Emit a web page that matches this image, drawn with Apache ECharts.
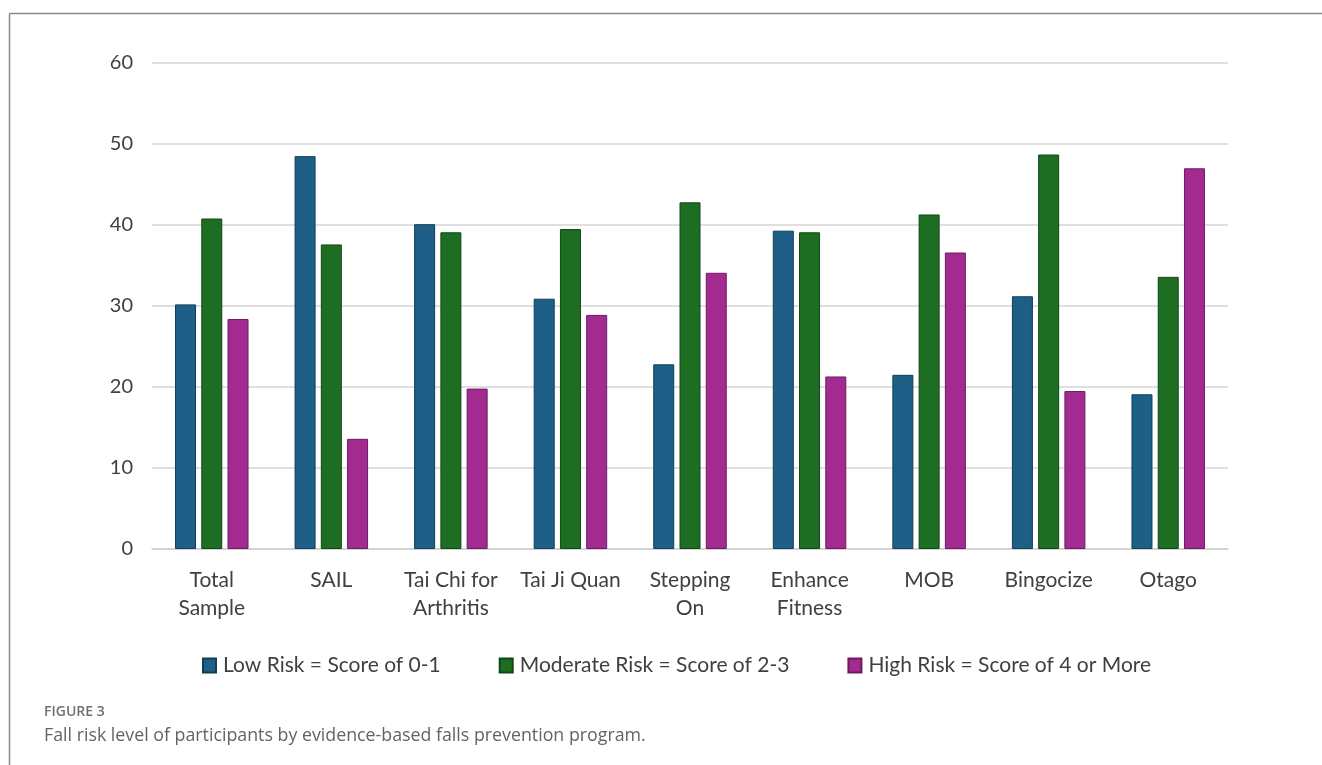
<!DOCTYPE html>
<html>
<head>
<meta charset="utf-8">
<script src="https://cdn.jsdelivr.net/npm/echarts@6/dist/echarts.min.js"></script>
<style>
html,body{margin:0;padding:0;background:#fff;}
#chart{width:1322px;height:765px;}
</style>
</head>
<body>
<div id="chart"></div>
<script>
var categories = ['Total\nSample', 'SAIL', 'Tai Chi for\nArthritis', 'Tai Ji Quan', 'Stepping\nOn', 'Enhance\nFitness', 'MOB', 'Bingocize', 'Otago'];
var seriesNames = ['Low Risk = Score of 0-1', 'Moderate Risk = Score of 2-3', 'High Risk = Score of 4 or More'];
var lowRisk = [30.2, 48.5, 40.1, 30.9, 22.8, 39.3, 21.5, 31.2, 19.1];
var moderateRisk = [40.8, 37.6, 39.1, 39.5, 42.8, 39.1, 41.3, 48.7, 33.6];
var highRisk = [28.4, 13.6, 19.8, 28.9, 34.1, 21.3, 36.6, 19.5, 47.0];
var yTicks = [0, 10, 20, 30, 40, 50, 60];
var figureLabel = 'FIGURE 3';
var captionText = 'Fall risk level of participants by evidence-based falls prevention program.';

var colors = ['#1d5f87', '#1d6e22', '#a22a91'];
var borders = ['#123d57', '#11461a', '#6b1c60'];
var FONT = 'Lato, "Open Sans", sans-serif';

var chart = echarts.init(document.getElementById('chart'), null, {renderer: 'canvas'});
function mk(name, data, i) {
  return {
    name: name, type: 'bar', data: data,
    barWidth: 21, barGap: '25%',
    itemStyle: {color: colors[i], borderColor: borders[i], borderWidth: 1},
    emphasis: {disabled: true}
  };
}
chart.setOption({
  animation: false,
  color: colors,
  grid: {left: 152, right: 94, top: 63, bottom: 216, containLabel: false},
  xAxis: {
    type: 'category', data: categories,
    axisLine: {show: true, lineStyle: {color: '#d0d0d0', width: 1.5}},
    axisTick: {show: false},
    axisLabel: {color: '#404040', fontFamily: FONT, fontSize: 21, lineHeight: 28, margin: 17, interval: 0}
  },
  yAxis: {
    type: 'value', min: yTicks[0], max: yTicks[yTicks.length - 1], interval: 10,
    axisLine: {show: false}, axisTick: {show: false},
    splitLine: {lineStyle: {color: '#d4d4d4', width: 1.5}},
    axisLabel: {color: '#404040', fontFamily: FONT, fontSize: 20, margin: 19}
  },
  legend: {
    data: seriesNames, top: 650, left: 197,
    icon: 'rect', itemWidth: 13, itemHeight: 14, itemGap: 58,
    textStyle: {color: '#404040', fontFamily: FONT, fontSize: 21, padding: [0, 0, 0, 2]}
  },
  series: [mk(seriesNames[0], lowRisk, 0), mk(seriesNames[1], moderateRisk, 1), mk(seriesNames[2], highRisk, 2)],
  graphic: [
    {type: 'line', shape: {x1: 9.5, y1: 13.5, x2: 1322, y2: 13.5}, style: {stroke: '#8a8a8a', lineWidth: 1.5}, silent: true},
    {type: 'line', shape: {x1: 9.5, y1: 13.5, x2: 9.5, y2: 765}, style: {stroke: '#8a8a8a', lineWidth: 1.5}, silent: true},
    {type: 'text', left: 44, top: 705, style: {text: figureLabel, fill: '#707070', font: '600 14px "Open Sans", sans-serif'}},
    {type: 'text', left: 44, top: 727, style: {text: captionText, fill: '#636363', font: '17.8px "Open Sans", sans-serif'}}
  ]
});
</script>
</body>
</html>
